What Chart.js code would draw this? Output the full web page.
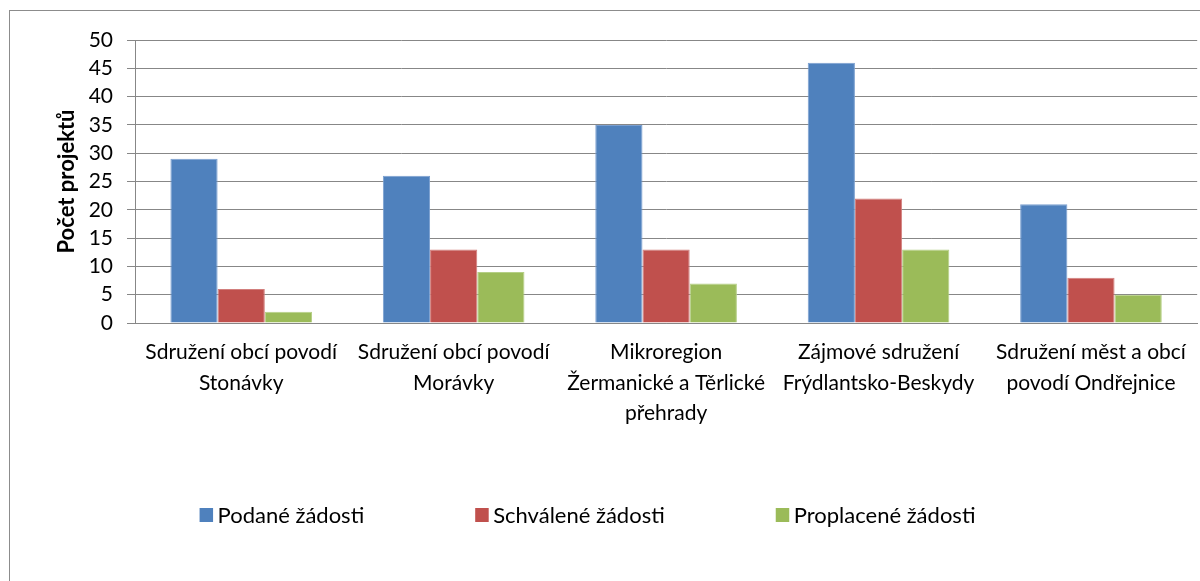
<!DOCTYPE html>
<html>
<head>
<meta charset="utf-8">
<script src="https://cdn.jsdelivr.net/npm/chart.js@4"></script>
<style>
  html, body { margin: 0; padding: 0; background: #fff; }
  #wrap { width: 1200px; height: 581px; }
</style>
</head>
<body>
<div id="wrap"><canvas id="projektyChart" width="1200" height="581"></canvas></div>
<script>
// categories (multi-line like in the original)
const regions = [
    ["Sdružení obcí povodí", "Stonávky"],
    ["Sdružení obcí povodí", "Morávky"],
    ["Mikroregion", "Žermanické a Těrlické", "přehrady"],
    ["Zájmové sdružení", "Frýdlantsko-Beskydy"],
    ["Sdružení měst a obcí", "povodí Ondřejnice"]
];
const seriesNames = ["Podané žádosti", "Schválené žádosti", "Proplacené žádosti"];
const podane = [29, 26, 35, 46, 21];
const schvalene = [6, 13, 13, 22, 8];
const proplacene = [2, 9, 7, 13, 5];
const yTicks = [0, 5, 10, 15, 20, 25, 30, 35, 40, 45, 50];

const colors = ['#4F81BD', '#C0504D', '#9BBB59'];
const borders = ['#7A9FD0', '#D27F7D', '#B5CF86'];
const fontFamily = 'Lato, "Open Sans", sans-serif';
const gridColor = '#878787';

// outer frame of the chart object
const framePlugin = {
    id: 'frame',
    beforeDraw(chart) {
        const ctx = chart.ctx;
        ctx.save();
        ctx.strokeStyle = '#8c8c8c';
        ctx.lineWidth = 1;
        ctx.strokeRect(9.5, 10.5, 1300, 700);
        ctx.restore();
    }
};

// legend drawn Excel-style: small squares with constant gap between items
const legendPlugin = {
    id: 'excelLegend',
    afterDraw(chart) {
        const ctx = chart.ctx;
        const box = 13, textGap = 5, itemGap = 111, cy = 515;
        ctx.save();
        ctx.font = '22px ' + fontFamily;
        const items = chart.data.datasets.map(ds => ({
            label: ds.label, color: ds.backgroundColor, w: ctx.measureText(ds.label).width
        }));
        const total = items.reduce((s, it) => s + box + textGap + it.w, 0) + itemGap * (items.length - 1);
        let x = 587.5 - total / 2;
        ctx.textBaseline = 'middle';
        ctx.textAlign = 'left';
        items.forEach(it => {
            ctx.fillStyle = it.color;
            ctx.fillRect(x, cy - 7, box + 0.5, 14);
            ctx.fillStyle = '#000';
            ctx.fillText(it.label, x + box + textGap, cy + 1);
            x += box + textGap + it.w + itemGap;
        });
        ctx.restore();
    }
};

const data = {
    labels: regions,
    datasets: [podane, schvalene, proplacene].map((vals, i) => ({
        label: seriesNames[i],
        data: vals,
        backgroundColor: colors[i],
        borderColor: borders[i],
        borderWidth: 1,
        barPercentage: 1,
        categoryPercentage: 3 / 4.5
    }))
};

new Chart(document.getElementById('projektyChart'), {
    type: 'bar',
    data,
    options: {
        responsive: false,
        animation: false,
        layout: { padding: { left: 9, top: 40, right: 1, bottom: 0 } },
        plugins: {
            legend: { display: false },
            tooltip: { enabled: false }
        },
        scales: {
            x: {
                grid: { display: false, drawTicks: false },
                border: { display: true, color: gridColor, width: 1 },
                ticks: {
                    color: '#000',
                    padding: 14,
                    maxRotation: 0,
                    autoSkip: false,
                    font: { family: fontFamily, size: 21, lineHeight: 30.5 / 21 }
                },
                afterFit(scale) { scale.height = 258; }
            },
            y: {
                min: 0,
                max: 50,
                afterBuildTicks(scale) { scale.ticks = yTicks.map(v => ({ value: v })); },
                grid: { color: gridColor, lineWidth: 1, tickLength: 8, drawTicks: true },
                border: { display: true, color: gridColor, width: 1 },
                ticks: {
                    color: '#000',
                    padding: 14,
                    font: { family: fontFamily, size: 21 }
                },
                title: {
                    display: true,
                    text: 'Počet projektů',
                    color: '#000',
                    padding: { top: 45, bottom: 0 },
                    font: { family: fontFamily, size: 22, weight: 'bold' }
                },
                afterFit(scale) { scale.width = 126; }
            }
        }
    },
    plugins: [framePlugin, legendPlugin]
});
</script>
</body>
</html>
